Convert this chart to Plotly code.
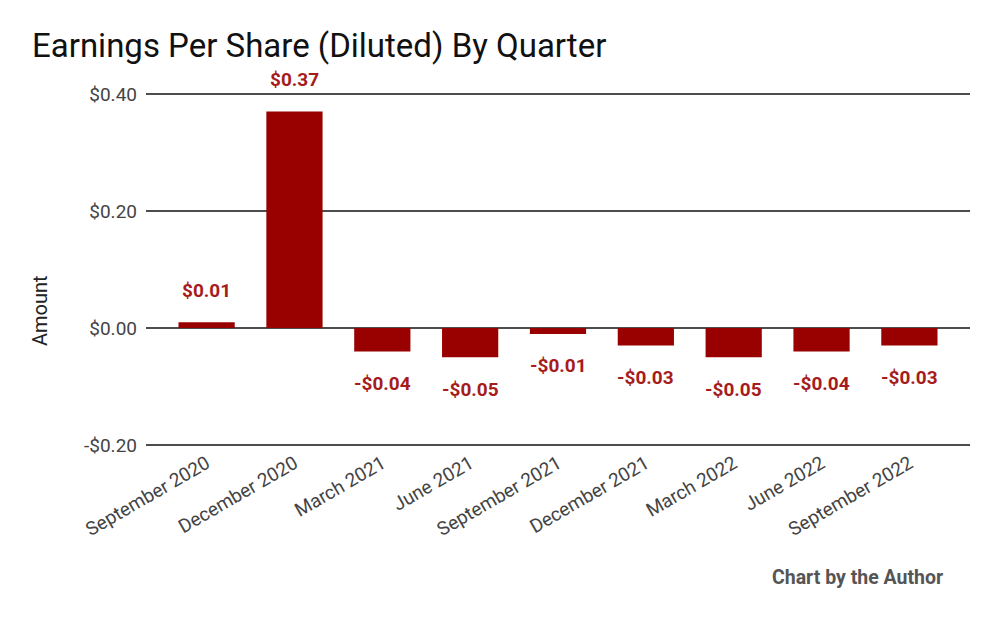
import plotly.graph_objects as go

quarters = ["September 2020", "December 2020", "March 2021", "June 2021", "September 2021",
            "December 2021", "March 2022", "June 2022", "September 2022"]
eps = [0.01, 0.37, -0.04, -0.05, -0.01, -0.03, -0.05, -0.04, -0.03]
y_ticks = [-0.2, 0.0, 0.2, 0.4]
y_tick_labels = ["-$0.20", "$0.00", "$0.20", "$0.40"]

def fmt(v):
    return ("-$%.2f" % abs(v)) if v < 0 else ("$%.2f" % v)

BAR = "#990000"
LABEL = "#a61c1c"
PLOT_TOP, PLOT_BOT = 91, 448
PH = PLOT_BOT - PLOT_TOP

fig = go.Figure()
fig.add_trace(go.Bar(x=quarters, y=eps, marker=dict(color=BAR, line=dict(width=0)),
                     width=0.64, hoverinfo="skip"))

for q, v in zip(quarters, eps):
    fig.add_annotation(x=q, y=v, text="<b>%s</b>" % fmt(v), showarrow=False,
                       yshift=32 if v >= 0 else -32,
                       font=dict(family="Roboto", size=19, color=LABEL))

fig.add_annotation(xref="paper", yref="paper", x=1.0 - 25/824, y=(PLOT_BOT-577)/PH,
                   xanchor="right", yanchor="middle", showarrow=False,
                   text="<b>Chart by the Author</b>",
                   font=dict(family="Roboto", size=19.5, color="#555555"))

fig.add_annotation(xref="paper", yref="paper", x=-106/824, y=(PLOT_BOT-311)/PH,
                   xanchor="center", yanchor="middle", showarrow=False, textangle=-90,
                   text="Amount", font=dict(family="Roboto", size=20, color="#222222"))

fig.update_layout(
    width=1000, height=618,
    margin=dict(l=146, r=30, t=PLOT_TOP, b=618-PLOT_BOT),
    paper_bgcolor="white", plot_bgcolor="white",
    showlegend=False,
    title=dict(text="Earnings Per Share (Diluted) By Quarter", x=32/1000, xanchor="left",
               y=1 - 45/618, yanchor="middle",
               font=dict(family="Roboto", size=33, color="#111111")),
    font=dict(family="Roboto", color="#444444", size=19),
)
fig.update_xaxes(range=[-0.69, 8.69], tickangle=-30, tickfont=dict(size=19, color="#444444"),
                 showgrid=False, showline=False, ticks="", automargin=False)
fig.update_yaxes(range=[-0.205, 0.405], tickvals=y_ticks, ticktext=y_tick_labels,
                 showgrid=True, gridcolor="#4d4d4d", gridwidth=1.5,
                 zeroline=True, zerolinecolor="#4d4d4d", zerolinewidth=1.5,
                 tickfont=dict(size=19, color="#444444"), ticks="", ticklabelstandoff=8,
                 automargin=False)

fig.write_html("out.html")
